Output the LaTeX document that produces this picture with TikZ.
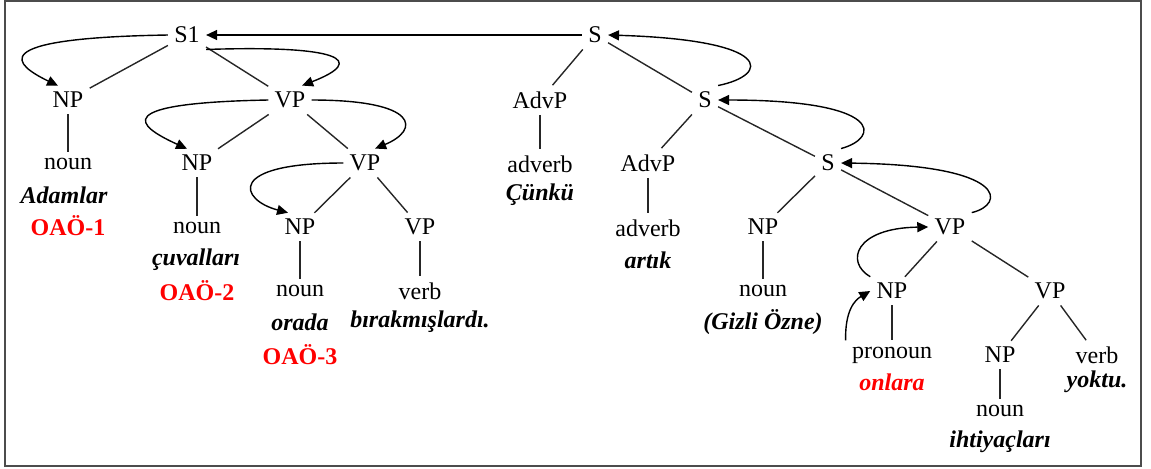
\documentclass[tikz,border=0pt]{standalone}
\usepackage{fontspec}
\setmainfont{LiberationSerif}[
    Extension=.ttf,
    UprightFont=*-Regular,
    BoldFont=*-Bold,
    ItalicFont=*-Italic,
    BoldItalicFont=*-BoldItalic]
\usetikzlibrary{arrows.meta}

\begin{document}
\begin{tikzpicture}[%
        x=0.5pt, y=-0.5pt,
        every node/.style={font=\fontsize{12}{14}\selectfont},
        cat/.style={inner sep=3pt},
        wclass/.style={inner sep=3pt},
        word/.style={inner sep=1pt, font=\fontsize{12}{14}\selectfont\bfseries\itshape},
        oao/.style={inner sep=1pt, text=red, font=\fontsize{12}{14}\selectfont\bfseries},
        branch/.style={line width=0.7pt, black!85},
        movearrow/.style={line width=0.7pt, -{Triangle[length=5.5pt,width=5pt]}}
    ]
        \useasboundingbox (0,0) rectangle (1151,468);
        \draw [line width=1pt, black!70] (5,1) rectangle (1141,466);

        % phrase labels
        \foreach \n/\x/\y/\t in
            {s1/187/35/S1, s/595/35/S,
             np1/68/100/NP, vp1/290/100/VP, np2/197/163/NP, vp2/365/163/VP,
             np3/300/227/NP, vp3/420/227/VP,
             advp1/540/100/AdvP, s2/705/100/S, advp2/648/163/AdvP, s3/828/163/S,
             np4/763/227/NP, vp4/950/227/VP, np5/892/291/NP, vp5/1050/291/VP,
             np6/1000/355/NP}
            \node [cat] (\n) at (\x,\y) {\t};

        % word classes
        \foreach \n/\x/\y/\t in
            {n1/68/164/noun, n2/197/228/noun, n3/300/291/noun, v3/420/291/verb,
             a1/540/164/adverb, a2/648/228/adverb, n4/763/291/noun,
             p5/892/355/pronoun, n6/1000/411/noun, v6/1097/355/verb}
            \node [wclass] (\n) at (\x,\y) {\t};

        % the words themselves
        \node [word] (adamlar) at (64,195) {Adamlar};
        \node [oao] (oao1) at (68,226) {OAÖ-1};
        \node [word] (cuvallari) at (196,260) {çuvalları};
        \node [oao] (oao2) at (197,291) {OAÖ-2};
        \node [word] (orada) at (300,322) {orada};
        \node [oao] (oao3) at (300,355) {OAÖ-3};
        \node [word] (birakmis) at (420,322) {bırakmışlardı.};
        \node [word] (cunku) at (540,195) {Çünkü};
        \node [word] (artik) at (648,260) {artık};
        \node [word] (gizli) at (763,322) {(Gizli Özne)};
        \node [word, text=red] (onlara) at (892,382) {onlara};
        \node [word] (ihtiyac) at (1000,442) {ihtiyaçları};
        \node [word] (yoktu) at (1097,382) {yoktu.};

        % branches
        \foreach \a/\b in
            {s1/np1, s1/vp1, np1/n1, vp1/np2, vp1/vp2, np2/n2, vp2/np3, vp2/vp3,
             np3/n3, vp3/v3, s/advp1, s/s2, advp1/a1, s2/advp2, s2/s3, advp2/a2,
             s3/np4, s3/vp4, np4/n4, vp4/np5, vp4/vp5, np5/p5, vp5/np6, vp5/v6,
             np6/n6}
            \draw [branch] (\a) -- (\b);

        % movement arrows
        \draw [movearrow] (s.west) -- (s1.east);
        \draw [movearrow] (s1.west) .. controls (-20,38) and (15,65) .. (np1.125);
        \draw [movearrow] (s1.south east) .. controls (340,45) and (368,60) .. (vp1.50);
        \draw [movearrow] (vp1.west) .. controls (110,103) and (135,125) .. (np2.125);
        \draw [movearrow] (vp1.east) .. controls (420,100) and (420,130) .. (vp2.55);
        \draw [movearrow] (vp2.west) .. controls (225,163) and (240,200) .. (np3.130);
        \draw [movearrow] (s2.north east) .. controls (770,75) and (775,40) .. (s.east);
        \draw [movearrow] (s3.north east) .. controls (880,138) and (885,100) .. (s2.east);
        \draw [movearrow] (vp4.north east) .. controls (1005,205) and (1010,165) .. (s3.east);
        \draw [movearrow] (np5.north west) .. controls (845,262) and (855,228) .. (vp4.west);
        \draw [movearrow] (p5.north west) .. controls (845,310) and (855,300) .. (np5.west);
\end{tikzpicture}
\end{document}
